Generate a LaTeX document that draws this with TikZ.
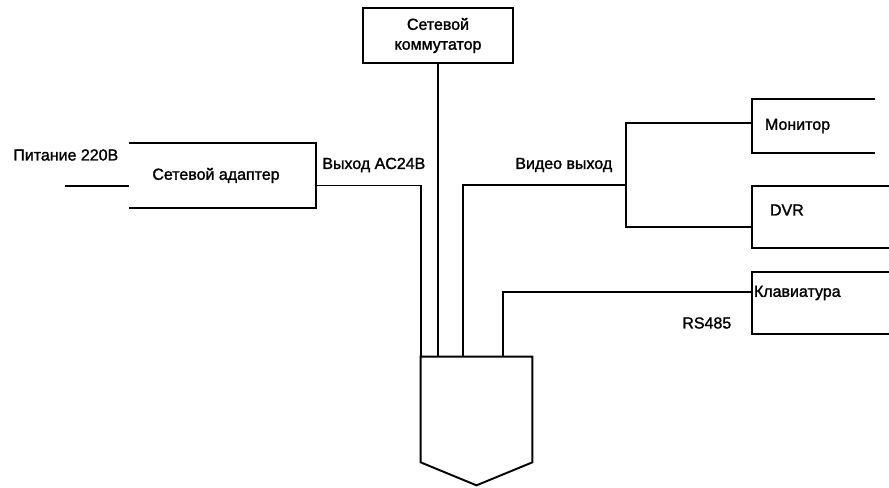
\documentclass[tikz,border=0pt]{standalone}
\usepackage{fontspec}
\setmainfont{Liberation Sans}
\newfontfamily\diagfont[FakeBold=1.5]{Liberation Sans}
\usetikzlibrary{calc, positioning}

\begin{document}
\begin{tikzpicture}[
  font=\diagfont\fontsize{9.1pt}{11.3pt}\selectfont,
  wire/.style={line width=1.1pt},
  blk/.style={inner sep=0pt, minimum width=#1},
  lbl/.style={anchor=west, inner sep=0pt},
]
  \useasboundingbox (0,0) rectangle (17.78,9.76);

  % Blocks
  \node[blk=3cm, draw, line width=1.1pt, minimum height=1.1cm, align=center] (switch) at (8.76,9.05) {Сетевой\\коммутатор};
  \node[blk=3.74cm, minimum height=1.3cm] (adapter) at (4.45,6.25) {};
  \node[blk=2.46cm, minimum height=1.08cm] (monitor) at (16.27,7.24) {};
  \node[blk=2.74cm, minimum height=1.24cm] (dvr) at (16.41,5.42) {};
  \node[blk=2.74cm, minimum height=1.24cm] (keyb) at (16.41,3.70) {};
  \node[blk=2.22cm, minimum height=2.10cm] (cam) at (9.53,1.57) {};
  \coordinate (tip) at ([yshift=-0.46cm]cam.south);

  % Open outlines
  \draw[wire] (adapter.north west) -- (adapter.north east) -- (adapter.south east) -- (adapter.south west);
  \draw[wire] (monitor.north east) -- (monitor.north west) -- (monitor.south west) -- (monitor.south east);
  \draw[wire] (dvr.north east) -- (dvr.north west) -- (dvr.south west) -- (dvr.south east);
  \draw[wire] (keyb.north east) -- (keyb.north west) -- (keyb.south west) -- (keyb.south east);
  \draw[wire] (cam.north west) -- (cam.north east) -- (cam.south east) -- (tip) -- (cam.south west) -- cycle;

  % Box texts
  \node (adtxt) at ([xshift=-0.13cm]adapter.center) {Сетевой адаптер};
  \node[lbl] (montxt) at ([xshift=0.26cm]monitor.west) {Монитор};
  \node[lbl] (dvrtxt) at ([shift={(0.36,0.14)}]dvr.west) {DVR};
  \node[lbl] (keybtxt) at ([shift={(0.04,0.2)}]keyb.west) {Клавиатура};

  % Signal lines
  \coordinate (mains) at (1.30,6.04);
  \coordinate (acout) at ([yshift=-0.2cm]adapter.east);
  \coordinate (vid) at ($(cam.north west)!0.378!(cam.north east)$);
  \coordinate (rs) at ($(cam.north west)!0.739!(cam.north east)$);
  \coordinate (split) at (12.52,6.06);

  \draw[wire] (mains) -- (mains -| adapter.west);
  \draw[wire] (acout) -| (cam.north west);
  \draw[wire] (switch.south) -- (switch.south |- cam.north);
  \draw[wire] (vid) |- (split);
  \draw[wire] (split) |- ([yshift=0.06cm]monitor.west);
  \draw[wire, line width=1.6pt] (split) |- ([yshift=-0.2cm]dvr.west);
  \draw[wire] (rs) |- ([yshift=0.22cm]keyb.west);

  % Line labels
  \node[lbl] (mainslbl) at (0.26,6.66) {Питание 220В};
  \node[lbl] (aclbl) at (6.44,6.46) {Выход AC24В};
  \node[lbl] (vidlbl) at (10.30,6.46) {Видео выход};
  \node[lbl] (rslbl) at (13.64,3.30) {RS485};

\end{tikzpicture}
\end{document}
